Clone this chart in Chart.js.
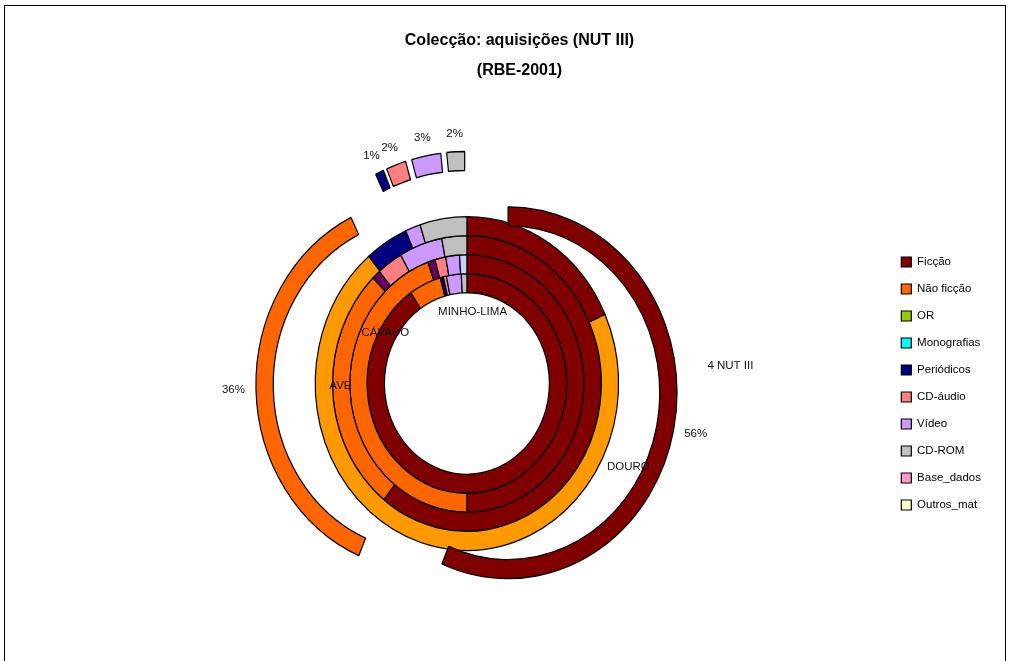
<!DOCTYPE html>
<html><head><meta charset="utf-8">
<script src="https://cdn.jsdelivr.net/npm/chart.js@4.4.1/dist/chart.umd.min.js"></script>
<style>html,body{margin:0;padding:0;background:#fff;overflow:hidden}</style>
</head><body>
<canvas id="c" width="1010" height="661"></canvas>
<script>
// ---------------- data ----------------
const categories = ['Ficção','Não ficção','OR','Monografias','Periódicos','CD-áudio','Vídeo','CD-ROM','Base_dados','Outros_mat'];
const seriesNames = ['4 NUT III','DOURO','AVE','CÁVADO','MINHO-LIMA'];   // outer -> inner
const nut4      = [56.4, 36.4, 0, 0, 0.8, 1.9, 2.8, 1.7, 0, 0];
const douro     = [18.2, 70.6, 0, 0, 4.6, 0.0, 1.6, 5.0, 0, 0];
const ave       = [60.6, 27.1, 0, 0, 1.0, 3.1, 5.2, 3.0, 0, 0];
const cavado    = [50.0, 44.6, 0, 0, 1.0, 1.5, 1.9, 1.0, 0, 0];
const minhoLima = [90.5, 5.2, 0, 0, 0.5, 0.5, 2.4, 0.9, 0, 0];
const seriesValues = [nut4, douro, ave, cavado, minhoLima];
const titleLines = ['Colecção: aquisições (NUT III)', '(RBE-2001)'];

// ---------------- styles ----------------
const FONT = '"Liberation Sans", Arial, sans-serif';
const palette = ['#800000','#FF6600','#99CC00','#00FFFF','#000080','#FF8080','#CC99FF','#C0C0C0','#FF99CC','#FFFFCC'];
const ringColorOverrides = [{}, {1:'#FF9900'}, {4:'#660066'}, {4:'#660066', 7:'#CCCCFF'}, {}];
const Y_STRETCH = 1.1;      // picture is slightly taller than wide
const EXPLODE = 42;         // outer ring explosion distance
const LABEL_GAP = 11;
// series-name label placement: [angle deg clockwise from top, radius]
const seriesLabelPolar = [[86.5, 264], [115.2, 178.5], [269, 126.5], [299.4, 93.6], [5, 65]];

const excelPlugin = {
  id: 'excelDoughnut',
  beforeDraw(chart) {
    const ctx = chart.ctx;
    ctx.save();
    ctx.fillStyle = '#fff';
    ctx.fillRect(0, 0, chart.width, chart.height);
    ctx.strokeStyle = '#000';
    ctx.lineWidth = 1;
    ctx.strokeRect(4.5, 5.5, 1001, 700);
    ctx.restore();
  },
  beforeDatasetsDraw(chart) {
    const a = chart.getDatasetMeta(0).data[0];
    const ctx = chart.ctx;
    ctx.save();
    ctx.translate(a.x, a.y);
    ctx.scale(1, Y_STRETCH);
    ctx.translate(-a.x, -a.y);
  },
  beforeDatasetDraw(chart, args) {
    if (args.index === 0) return false;
  },
  afterDatasetsDraw(chart) {
    const ctx = chart.ctx;
    const meta = chart.getDatasetMeta(0);
    meta.data.forEach(arc => {
      if (!(arc.circumference > 0)) return;
      const mid = (arc.startAngle + arc.endAngle) / 2;
      ctx.save();
      ctx.translate(Math.cos(mid) * EXPLODE, Math.sin(mid) * EXPLODE);
      arc.draw(ctx);
      ctx.restore();
    });
    ctx.restore();
  },
  afterDraw(chart) {
    const ctx = chart.ctx;
    const meta = chart.getDatasetMeta(0);
    const vals = chart.data.datasets[0].data;
    const total = vals.reduce((s, v) => s + v, 0);
    ctx.save();
    ctx.font = '11.5px ' + FONT;
    ctx.fillStyle = '#111';
    ctx.textAlign = 'center';
    ctx.textBaseline = 'middle';
    meta.data.forEach((arc, i) => {
      const v = vals[i];
      if (!v) return;
      const txt = Math.round(v / total * 100) + '%';
      const mid = (arc.startAngle + arc.endAngle) / 2;
      const R = arc.outerRadius + EXPLODE + LABEL_GAP;
      const ax = arc.x + Math.cos(mid) * R;
      const ay = arc.y + Math.sin(mid) * R * Y_STRETCH;
      const w = ctx.measureText(txt).width;
      ctx.fillText(txt, ax + Math.cos(mid) * w / 2, ay + Math.sin(mid) * 6);
    });
    const c = meta.data[0];
    seriesNames.forEach((name, r) => {
      const [deg, rad] = seriesLabelPolar[r];
      const t = deg * Math.PI / 180;
      ctx.fillText(name, c.x + rad * Math.sin(t), c.y - rad * Math.cos(t) * Y_STRETCH);
    });
    ctx.restore();
  }
};

new Chart(document.getElementById('c'), {
  type: 'doughnut',
  data: {
    labels: categories,
    datasets: seriesValues.map((vals, r) => ({
      label: seriesNames[r],
      data: vals,
      backgroundColor: palette.map((col, i) => ringColorOverrides[r][i] || col),
      borderColor: '#000',
      borderWidth: 1.2,
      hoverOffset: 0,
      clip: false
    }))
  },
  options: {
    responsive: false,
    animation: false,
    events: [],
    devicePixelRatio: 1,
    radius: 169,
    cutout: '48.8%',
    layout: { padding: { left: 48, right: 19, top: 0, bottom: 0 } },
    plugins: {
      title: {
        display: true,
        text: titleLines,
        color: '#000',
        font: { family: FONT, size: 16, weight: 'bold', lineHeight: 1.875 },
        padding: { top: 26, bottom: 20 }
      },
      legend: {
        position: 'right',
        fullSize: false,
        labels: {
          boxWidth: 10, boxHeight: 10, padding: 15.5, color: '#000',
          font: { family: FONT, size: 11.5 }
        }
      },
      tooltip: { enabled: false }
    }
  },
  plugins: [excelPlugin]
});
</script>
</body></html>
